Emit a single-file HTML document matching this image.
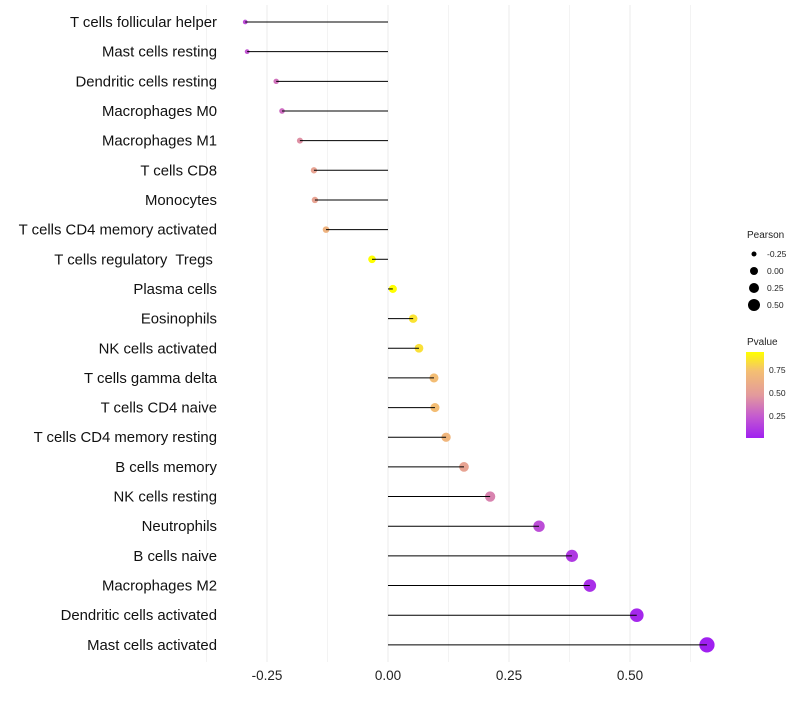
<!DOCTYPE html>
<html><head><meta charset="utf-8"><style>
body{margin:0;background:#fff;font-family:"Liberation Sans",sans-serif}
svg text{font-family:"Liberation Sans",sans-serif}
</style></head><body>
<svg id="chart" width="800" height="700" xmlns="http://www.w3.org/2000/svg">
<defs><linearGradient id="pg" x1="0" y1="1" x2="0" y2="0">
<stop offset="0" stop-color="#a020f0"/><stop offset="0.25" stop-color="#c45ad0"/><stop offset="0.5" stop-color="#e39a9c"/><stop offset="0.78" stop-color="#f4bf72"/><stop offset="1" stop-color="#ffff00"/></linearGradient></defs>
<g id="grid"></g><g id="marks"></g><g id="labels"></g>
<g>
<text x="747" y="238" font-size="10" fill="#222">Pearson</text>
<circle cx="754" cy="254" r="2.5" fill="#000"/><text x="767" y="257" font-size="8.5" fill="#222">-0.25</text>
<circle cx="754" cy="271" r="4" fill="#000"/><text x="767" y="274" font-size="8.5" fill="#222">0.00</text>
<circle cx="754" cy="288" r="5" fill="#000"/><text x="767" y="291" font-size="8.5" fill="#222">0.25</text>
<circle cx="754" cy="305" r="6" fill="#000"/><text x="767" y="308" font-size="8.5" fill="#222">0.50</text>
</g>
<g>
<text x="747" y="345" font-size="10" fill="#222">Pvalue</text>
<rect x="746" y="352" width="18" height="86" fill="url(#pg)"/>
<text x="769" y="373" font-size="8.5" fill="#222">0.75</text>
<text x="769" y="396" font-size="8.5" fill="#222">0.50</text>
<text x="769" y="419" font-size="8.5" fill="#222">0.25</text>
</g>
</svg>
<script>
const categories=["T cells follicular helper","Mast cells resting","Dendritic cells resting","Macrophages M0","Macrophages M1","T cells CD8","Monocytes","T cells CD4 memory activated","T cells regulatory  Tregs ","Plasma cells","Eosinophils","NK cells activated","T cells gamma delta","T cells CD4 naive","T cells CD4 memory resting","B cells memory","NK cells resting","Neutrophils","B cells naive","Macrophages M2","Dendritic cells activated","Mast cells activated"];
const pearson=[-0.295,-0.291,-0.231,-0.219,-0.182,-0.153,-0.151,-0.128,-0.033,0.010,0.052,0.064,0.095,0.097,0.120,0.157,0.211,0.312,0.380,0.417,0.514,0.659];
const pvalues=[0.20,0.24,0.34,0.32,0.45,0.55,0.55,0.66,0.95,0.97,0.86,0.85,0.73,0.73,0.68,0.55,0.40,0.20,0.12,0.08,0.05,0.02];
const xTicks=[-0.25,0,0.25,0.5];
const xTickLabels=["-0.25","0.00","0.25","0.50"];
const NS="http://www.w3.org/2000/svg";
const x=v=>388+v*484;
const y=i=>22+i*29.66;
const r=v=>4+v*5.5;
function col(p){const t=Math.max(0,Math.min(1,(p-0.02)/0.93));
const st=[[0,[160,32,240]],[0.25,[196,90,208]],[0.5,[227,154,156]],[0.78,[244,191,114]],[1,[255,255,0]]];
for(let k=1;k<st.length;k++){if(t<=st[k][0]){const a=st[k-1],b=st[k],f=(t-a[0])/(b[0]-a[0]);
return "rgb("+a[1].map((c,j)=>Math.round(c+(b[1][j]-c)*f)).join(",")+")";}}return "rgb(255,255,0)";}
function el(t,a,p){const e=document.createElementNS(NS,t);for(const k in a)e.setAttribute(k,a[k]);p.appendChild(e);return e;}
const grid=document.getElementById('grid'),marks=document.getElementById('marks'),labels=document.getElementById('labels');
[-0.375,-0.125,0.125,0.375,0.625].forEach(v=>{const g=el('line',{x1:x(v),x2:x(v),y1:5,y2:662,stroke:'#f3f3f3','stroke-width':1},grid);

});
xTicks.forEach((v,i)=>{const g=el('line',{x1:x(v),x2:x(v),y1:5,y2:662,stroke:'#ebebeb','stroke-width':1},grid);


const t=el('text',{x:x(v),y:680,'text-anchor':'middle','font-size':13.5,fill:'#222'},labels);t.textContent=xTickLabels[i];

});
categories.forEach((c,i)=>{
const d=el('circle',{cx:x(pearson[i]),cy:y(i),r:r(pearson[i]),fill:col(pvalues[i])},marks);


const l=el('line',{x1:x(0),x2:x(pearson[i]),y1:y(i),y2:y(i),stroke:'#000','stroke-width':1},marks);


const t=el('text',{x:217,y:y(i)+5,'text-anchor':'end','font-size':14.9,fill:'#111'},labels);t.textContent=c;
t.setAttribute('xml:space','preserve');t.style.whiteSpace='pre';

});
</script>
</body></html>
